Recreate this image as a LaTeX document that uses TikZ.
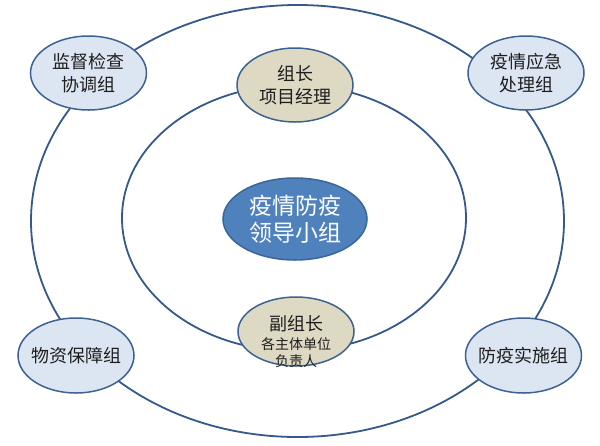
\documentclass[tikz,border=0pt]{standalone}
\usepackage{fontspec}
\setmainfont{Noto Sans CJK SC}
\usetikzlibrary{shapes.geometric}
\definecolor{ringc}{HTML}{34598A}
\definecolor{edgec}{HTML}{3D6292}
\definecolor{lblue}{HTML}{DCE6F2}
\definecolor{tan}{HTML}{DDD9C3}
\definecolor{midblue}{HTML}{4F81BD}
\definecolor{midedge}{HTML}{3A6699}
\definecolor{txtc}{HTML}{1E1E1E}
\tikzset{
  ring/.style={draw=ringc, line width=1.8pt},
  grp/.style={ellipse, draw=edgec, line width=1.5pt, fill=lblue, inner sep=-10pt,
    minimum width=116pt, minimum height=74pt, align=center, text=txtc,
    font=\fontsize{18}{22.5}\selectfont},
  lead/.style={grp, fill=tan},
  core/.style={ellipse, draw=midedge, line width=1.5pt, fill=midblue, inner sep=-10pt,
    minimum width=144pt, minimum height=82pt, align=center, text=white,
    font=\fontsize{23}{27.5}\selectfont},
  ltxt/.style={align=center, text=txtc, inner sep=0pt, font=\fontsize{14}{17}\selectfont}
}
\begin{document}
\begin{tikzpicture}[x=1pt,y=-1pt]
\useasboundingbox (0,0) rectangle (600,445);
\fill[white] (0,0) rectangle (600,445);
% rings
\draw[ring] (297.5,221) ellipse [x radius=266.5pt, y radius=216pt];
\draw[ring] (294,218) ellipse [x radius=172pt, y radius=133pt];
% outer groups
\node[grp] (jd) at (88.5,73) {监督检查\\协调组};
\node[grp] (yq) at (526,73) {疫情应急\\处理组};
\node[grp, minimum height=75pt] (wz) at (76,355.5) {物资保障组};
\node[grp, minimum height=75pt] (fy) at (523.5,355.5) {防疫实施组};
% leaders
\node[lead] (zz) at (295,85) {组长\\项目经理};
\node[lead, minimum height=69pt] (fz) at (296,331.5) {};
\node[ltxt, anchor=center] (fzt) at (296,342)
  {{\fontsize{18}{20}\selectfont 副组长}\\[2pt]各主体单位\\负责人};
% core
\node[core] (core) at (295,219) {疫情防疫\\领导小组};
\end{tikzpicture}
\end{document}
